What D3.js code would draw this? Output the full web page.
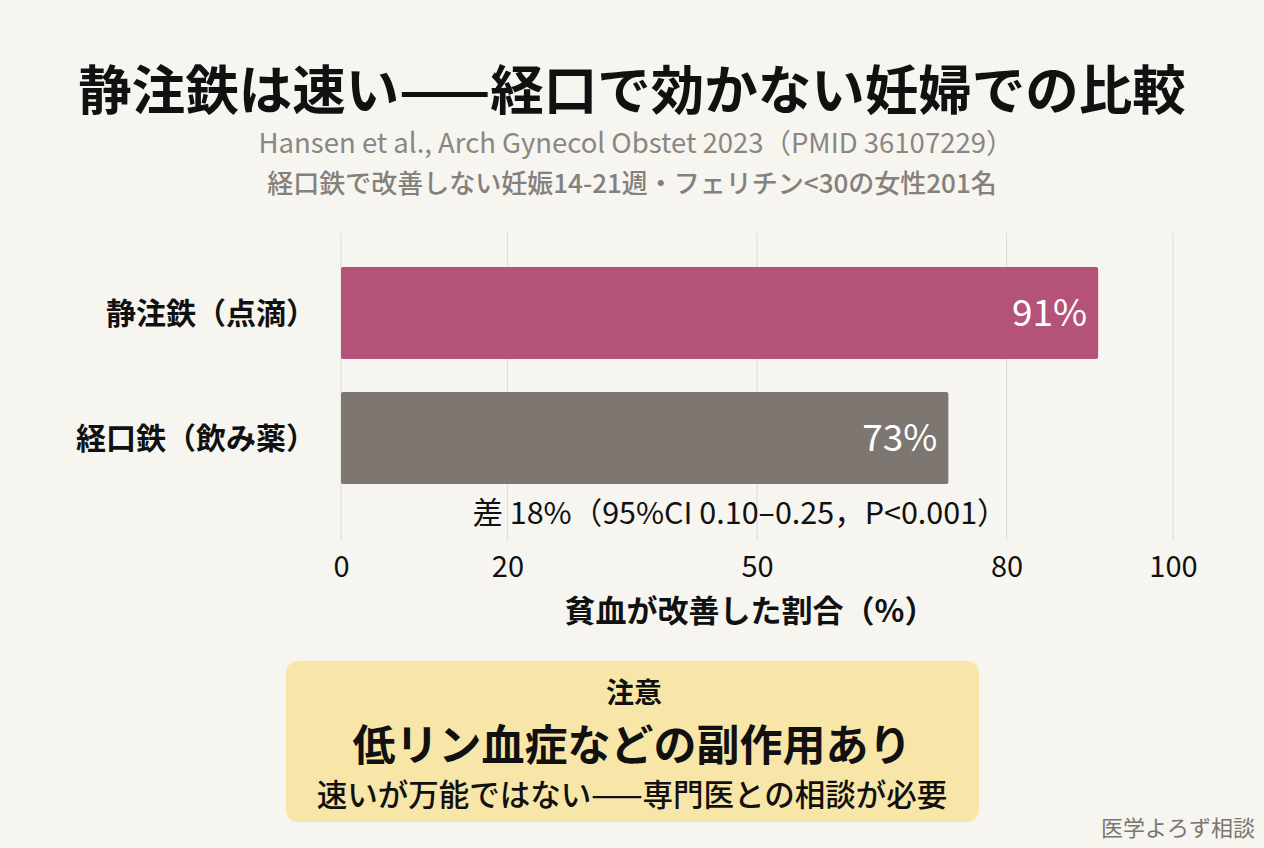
<!DOCTYPE html>
<html><head><meta charset="utf-8">
<script src="https://cdn.jsdelivr.net/npm/d3@7"></script>
<style>
html,body{margin:0;padding:0;background:#f6f5f0;}
svg{display:block;font-family:"Noto Sans CJK JP","Noto Sans",sans-serif;}
</style></head><body>
<svg id="c" width="1264" height="848"></svg>
<script>
const categories = ["静注鉄（点滴）", "経口鉄（飲み薬）"];
const values = [91, 73];
const barColors = ["#b5527a", "#7d7671"];
const tickValues = [0, 20, 50, 80, 100];
const title = "静注鉄は速い——経口で効かない妊婦での比較";
const subtitle1 = "Hansen et al., Arch Gynecol Obstet 2023（PMID 36107229）";
const subtitle2 = "経口鉄で改善しない妊娠14-21週・フェリチン<30の女性201名";
const diffNote = "差 18%（95%CI 0.10–0.25，P<0.001）";
const xTitle = "貧血が改善した割合（%）";
const callout = ["注意", "低リン血症などの副作用あり", "速いが万能ではない——専門医との相談が必要"];
const credit = "医学よろず相談";

const svg = d3.select("#c");
svg.append("rect").attr("width",1264).attr("height",848).attr("fill","#f6f5f0");

const x = d3.scaleLinear().domain([0,100]).range([341,1173]);
const y = d3.scaleBand().domain(categories).range([242,509]).paddingInner(0.264).paddingOuter(0.2);

// title
svg.append("text").attr("x",632).attr("y",110).attr("text-anchor","middle")
  .attr("font-size",53.5).attr("font-weight",700).attr("fill","#111").text(title);
svg.append("text").attr("x",636).attr("y",153).attr("text-anchor","middle")
  .attr("font-size",27.5).attr("fill","#8a8682").text(subtitle1);
svg.append("text").attr("x",632).attr("y",193).attr("text-anchor","middle")
  .attr("font-size",26).attr("font-weight",500).attr("fill","#85807b").text(subtitle2);

// gridlines
svg.append("g").selectAll("line").data(tickValues).join("line")
  .attr("x1",d=>x(d)).attr("x2",d=>x(d)).attr("y1",233).attr("y2",540)
  .attr("stroke","#dcdad5").attr("stroke-width",1);

// bars
svg.append("g").selectAll("rect").data(values).join("rect")
  .attr("x",x(0)).attr("y",(d,i)=>y(categories[i]))
  .attr("width",d=>x(d)-x(0)).attr("height",y.bandwidth())
  .attr("rx",2).attr("fill",(d,i)=>barColors[i]);

// value labels
svg.append("g").selectAll("text").data(values).join("text")
  .attr("x",d=>x(d)-11).attr("y",(d,i)=>y(categories[i])+y.bandwidth()/2)
  .attr("dy","0.36em").attr("text-anchor","end")
  .attr("font-size",37).attr("fill","#fff").text(d=>d+"%");

// category labels
svg.append("g").selectAll("text").data(categories).join("text")
  .attr("x",316).attr("y",d=>y(d)+y.bandwidth()/2).attr("dy","0.36em")
  .attr("text-anchor","end").attr("font-size",30).attr("font-weight",700)
  .attr("fill","#111").text(d=>d);

// diff note
svg.append("text").attr("x",740).attr("y",524).attr("text-anchor","middle")
  .attr("font-size",30.5).attr("fill","#111").text(diffNote);

// axis
const axis = d3.axisBottom(x).tickValues(tickValues).tickSize(0).tickPadding(0).tickFormat(d3.format("d"));
const ag = svg.append("g").attr("transform","translate(0,556)").call(axis);
ag.select(".domain").remove();
ag.selectAll("text").attr("font-size",29).attr("fill","#111").attr("dy","0.71em")
  .style("font-family","'Noto Sans CJK JP','Noto Sans',sans-serif");

svg.append("text").attr("x",750).attr("y",622).attr("text-anchor","middle")
  .attr("font-size",31).attr("font-weight",700).attr("fill","#111").text(xTitle);

// callout
svg.append("rect").attr("x",286).attr("y",661).attr("width",693).attr("height",161)
  .attr("rx",12).attr("fill","#f8e6a8");
svg.append("text").attr("x",634).attr("y",703).attr("text-anchor","middle")
  .attr("font-size",28).attr("font-weight",700).attr("fill","#111").text(callout[0]);
svg.append("text").attr("x",632).attr("y",761).attr("text-anchor","middle")
  .attr("font-size",43).attr("font-weight",700).attr("fill","#111").text(callout[1]);
svg.append("text").attr("x",632).attr("y",806).attr("text-anchor","middle")
  .attr("font-size",30.5).attr("font-weight",500).attr("fill","#111").text(callout[2]);

svg.append("text").attr("x",1255).attr("y",836).attr("text-anchor","end")
  .attr("font-size",22).attr("fill","#7a7672").text(credit);
</script></body></html>
